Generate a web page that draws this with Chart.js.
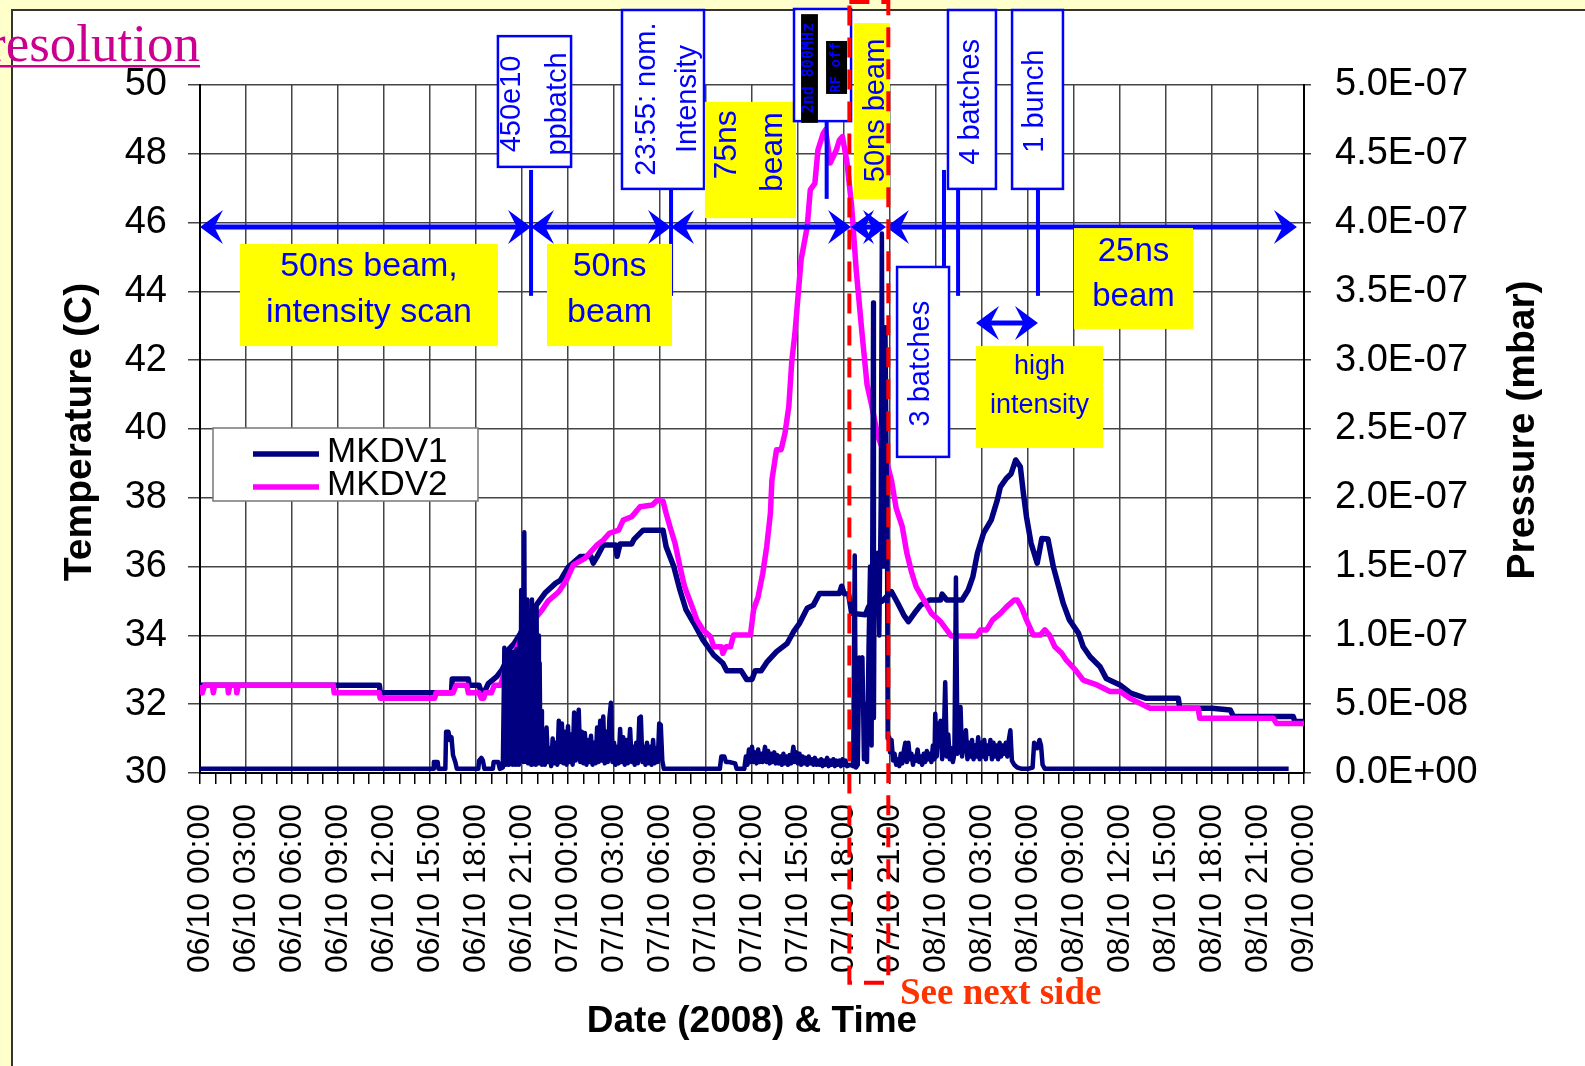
<!DOCTYPE html>
<html>
<head>
<meta charset="utf-8">
<title>MKDV temperature and pressure</title>
<script src="https://cdn.jsdelivr.net/npm/chart.js@4.4.1/dist/chart.umd.min.js"></script>
<style>
  html, body { margin: 0; padding: 0; background: #ffffcc; overflow: hidden; }
  canvas { display: block; }
</style>
</head>
<body>
<canvas id="kickerChart" width="1585" height="1066"></canvas>
<script>
// x axis: hours since 06/10/2008 00:00
const timeLabels = [
  '06/10 00:00', '06/10 03:00', '06/10 06:00', '06/10 09:00', '06/10 12:00', '06/10 15:00', '06/10 18:00', '06/10 21:00',
  '07/10 00:00', '07/10 03:00', '07/10 06:00', '07/10 09:00', '07/10 12:00', '07/10 15:00', '07/10 18:00', '07/10 21:00',
  '08/10 00:00', '08/10 03:00', '08/10 06:00', '08/10 09:00', '08/10 12:00', '08/10 15:00', '08/10 18:00', '08/10 21:00',
  '09/10 00:00'
];

// MKDV1 temperature, [hour, deg C]
const mkdv1Temp = [
  [0, 32.55], [11.7, 32.55], [11.75, 32.33], [16.4, 32.33], [16.45, 32.73], [17.5, 32.73], [17.55, 32.55], [18.2, 32.55],
  [18.3, 32.4], [18.6, 32.4], [18.8, 32.6], [19.35, 32.8], [19.7, 33.0], [20.0, 33.28], [20.1, 33.58], [20.5, 33.77],
  [20.9, 34.06], [21.4, 34.5], [21.85, 34.83], [22.5, 35.23], [23.2, 35.52], [23.5, 35.6], [24.0, 35.98], [24.8, 36.29],
  [25.5, 36.29], [25.65, 36.1], [25.9, 36.29], [26.3, 36.63], [27.1, 36.63], [27.2, 36.3], [27.4, 36.66], [28.15, 36.66],
  [28.3, 36.79], [28.9, 37.06], [30.2, 37.06], [30.4, 36.58], [30.9, 36.0], [31.3, 35.32], [31.7, 34.74], [32.2, 34.36],
  [32.8, 33.87], [33.5, 33.43], [34.1, 33.19], [34.35, 32.97], [35.3, 32.97], [35.65, 32.72], [36.0, 32.72], [36.2, 32.97],
  [36.6, 32.97], [37.0, 33.24], [37.6, 33.53], [38.3, 33.77], [38.7, 34.1], [39.1, 34.35], [39.6, 34.79], [40.0, 34.88],
  [40.4, 35.22], [41.7, 35.22], [41.85, 35.43], [42.0, 35.22], [42.3, 35.2], [42.5, 34.64], [43.4, 34.6], [43.6, 34.83],
  [44.0, 34.9], [44.5, 35.0], [45.1, 35.27], [45.5, 34.94], [45.9, 34.59], [46.2, 34.4], [46.6, 34.65], [47.0, 34.88],
  [47.6, 35.03], [48.3, 35.03], [48.4, 35.2], [48.7, 35.03], [49.7, 35.03], [50.1, 35.32], [50.4, 35.7], [50.7, 36.39],
  [51.1, 36.97], [51.6, 37.35], [52.0, 37.94], [52.2, 38.32], [52.6, 38.57], [52.9, 38.7], [53.2, 39.1], [53.5, 38.9],
  [53.7, 38.13], [53.9, 37.45], [54.2, 36.68], [54.6, 36.1], [54.9, 36.82], [55.3, 36.8], [55.65, 36.0], [56.0, 35.42],
  [56.3, 34.93], [56.7, 34.45], [57.3, 34.06], [57.6, 33.67], [58.05, 33.38], [58.7, 33.09], [59.1, 32.75], [60.0, 32.56],
  [60.7, 32.32], [61.7, 32.17], [63.8, 32.17], [63.9, 31.88], [66.0, 31.88], [67.2, 31.83], [67.4, 31.64], [71.3, 31.64],
  [71.4, 31.5], [72, 31.5]
];

// MKDV2 temperature, [hour, deg C]
const mkdv2Temp = [
  [0, 32.55], [0.15, 32.33], [0.3, 32.55], [0.8, 32.55], [0.87, 32.33], [0.95, 32.55], [1.8, 32.55], [1.85, 32.33],
  [1.95, 32.55], [2.35, 32.55], [2.4, 32.33], [2.5, 32.55], [8.7, 32.55], [8.75, 32.33], [11.7, 32.33], [11.75, 32.17],
  [15.3, 32.17], [15.4, 32.33], [16.5, 32.33], [16.7, 32.55], [17.4, 32.55], [17.5, 32.33], [18.2, 32.33], [18.35, 32.17],
  [18.5, 32.17], [18.6, 32.33], [19.0, 32.33], [19.2, 32.55], [19.6, 32.55], [19.9, 33.0], [20.5, 33.49], [20.9, 33.87],
  [21.5, 34.3], [22.3, 34.73], [22.7, 35.0], [23.4, 35.27], [23.9, 35.61], [24.35, 36.05], [25.1, 36.24], [25.9, 36.63],
  [26.3, 36.77], [26.7, 36.97], [27.3, 37.06], [27.6, 37.35], [28.15, 37.45], [28.7, 37.74], [29.5, 37.79], [29.8, 37.92],
  [30.2, 37.9], [30.4, 37.55], [30.65, 37.16], [30.98, 36.68], [31.3, 36.0], [31.6, 35.42], [32.1, 34.83], [32.4, 34.45],
  [32.8, 34.16], [33.3, 33.96], [33.5, 33.67], [34.0, 33.67], [34.1, 33.48], [34.3, 33.67], [34.6, 33.67], [34.8, 34.01],
  [35.9, 34.01], [36.1, 34.74], [36.4, 35.13], [36.7, 35.8], [36.96, 36.58], [37.2, 37.55], [37.3, 38.52], [37.6, 39.4],
  [37.9, 39.4], [38.15, 39.87], [38.4, 40.65], [38.6, 42.0], [38.8, 42.78], [39.0, 43.85], [39.2, 44.91], [39.6, 45.88],
  [39.8, 46.95], [40.1, 47.14], [40.3, 48.11], [40.65, 48.6], [40.8, 48.7], [41.1, 47.73], [41.5, 48.11], [41.7, 48.4],
  [41.9, 48.5], [42.2, 47.73], [42.5, 46.47], [42.8, 44.6], [43.15, 42.9], [43.5, 41.3], [43.8, 40.7], [44.2, 39.8],
  [44.7, 39.2], [45.1, 38.5], [45.4, 37.7], [45.8, 37.16], [46.1, 36.39], [46.4, 35.85], [46.7, 35.42], [47.2, 35.03],
  [47.7, 34.64], [48.3, 34.4], [48.7, 34.16], [49.0, 33.98], [50.65, 33.98], [50.9, 34.16], [51.3, 34.16], [51.7, 34.45],
  [52.2, 34.64], [52.6, 34.83], [53.1, 35.03], [53.3, 35.03], [53.6, 34.79], [53.9, 34.45], [54.35, 34.01], [54.8, 34.01],
  [55.1, 34.16], [55.4, 34.01], [55.75, 33.67], [56.2, 33.48], [56.5, 33.28], [57.1, 32.99], [57.6, 32.7], [58.5, 32.56],
  [59.35, 32.37], [60.0, 32.37], [60.65, 32.17], [61.96, 31.88], [65.1, 31.88], [65.2, 31.59], [70.0, 31.59], [70.2, 31.44],
  [72, 31.44]
];

// vacuum pressure, [hour, value in 1e-9 mbar]
const pressure = [
  [0, 3], [15.2, 3], [15.25, 8], [15.5, 8], [15.55, 3], [16.0, 3], [16.05, 30], [16.2, 30], [16.3, 24], [16.4, 26],
  [16.5, 13], [16.65, 8], [16.75, 3], [18.15, 3], [18.2, 9], [18.35, 11], [18.45, 9], [18.55, 3], [19.1, 3], [19.15, 8],
  [19.45, 8], [19.55, 3], [19.75, 4],
  [19.85, 91], [19.9, 6], [19.95, 70], [20.0, 8], [20.05, 85], [20.1, 6], [20.15, 64], [20.2, 9], [20.25, 75], [20.3, 7],
  [20.35, 88], [20.4, 6], [20.45, 62], [20.5, 8], [20.55, 78], [20.6, 6], [20.65, 90], [20.7, 7], [20.75, 70], [20.8, 6],
  [20.85, 100], [20.9, 9], [20.95, 133], [21.0, 10], [21.05, 120], [21.1, 8], [21.15, 175], [21.2, 12], [21.25, 111],
  [21.3, 8], [21.35, 126], [21.4, 7], [21.45, 105], [21.5, 9], [21.55, 118], [21.6, 6], [21.65, 126], [21.7, 8],
  [21.75, 110], [21.8, 7], [21.85, 116], [21.9, 6], [21.95, 121], [22.0, 9], [22.05, 100], [22.1, 7], [22.15, 80],
  [22.2, 8], [22.25, 45],
  [22.3, 6], [22.4, 20], [22.5, 6], [22.6, 33], [22.7, 8], [22.8, 18], [22.9, 5], [23.0, 25], [23.1, 7], [23.2, 22],
  [23.3, 6], [23.4, 38], [23.5, 8], [23.6, 36], [23.7, 7], [23.8, 30], [23.9, 6], [24.0, 34], [24.1, 8], [24.2, 28],
  [24.3, 6], [24.4, 44], [24.5, 9], [24.6, 30], [24.7, 46], [24.8, 8], [24.9, 30], [25.0, 7], [25.1, 29], [25.2, 6],
  [25.3, 24], [25.4, 8], [25.5, 27], [25.6, 6], [25.7, 22], [25.8, 7], [25.9, 33], [26.0, 8], [26.1, 38], [26.2, 9],
  [26.3, 41], [26.4, 7], [26.5, 30], [26.6, 8], [26.7, 40], [26.8, 51], [26.9, 8], [27.0, 22], [27.1, 6], [27.2, 19],
  [27.3, 7], [27.4, 32], [27.5, 8], [27.6, 26], [27.7, 6], [27.8, 24], [27.9, 7], [28.05, 32], [28.15, 8], [28.25, 19],
  [28.35, 6], [28.45, 22], [28.55, 7], [28.65, 40], [28.75, 41], [28.85, 8], [28.95, 19], [29.05, 6], [29.15, 22],
  [29.25, 7], [29.35, 19], [29.45, 6], [29.55, 24], [29.65, 7], [29.75, 18], [29.85, 8], [29.95, 36], [30.05, 35],
  [30.15, 9], [30.25, 3],
  [33.9, 3], [34.0, 12], [34.2, 12], [34.3, 8], [34.5, 8], [34.9, 7], [35.0, 3], [35.5, 3],
  [35.6, 12], [35.7, 6], [35.8, 17], [35.9, 8], [36.0, 19], [36.1, 8], [36.2, 15], [36.3, 7], [36.4, 17], [36.5, 8],
  [36.6, 14], [36.7, 8], [36.85, 19], [36.95, 8], [37.05, 16], [37.15, 7], [37.25, 14], [37.35, 8], [37.45, 15],
  [37.55, 7], [37.65, 13], [37.75, 7], [37.85, 12], [37.95, 6], [38.05, 14], [38.15, 7], [38.25, 12], [38.35, 6],
  [38.45, 13], [38.55, 7], [38.7, 19], [38.8, 8], [38.9, 15], [39.0, 7], [39.1, 14], [39.2, 6], [39.3, 12], [39.4, 7],
  [39.5, 11], [39.6, 6], [39.7, 12], [39.8, 7], [39.9, 10], [40.0, 6], [40.1, 11], [40.2, 6], [40.3, 9], [40.4, 6],
  [40.5, 10], [40.6, 5], [40.7, 9], [40.8, 6], [40.9, 11], [41.0, 5], [41.1, 9], [41.2, 6], [41.3, 10], [41.4, 5],
  [41.5, 9], [41.6, 6], [41.7, 9], [41.8, 5], [41.9, 10], [42.0, 6], [42.1, 9], [42.2, 5],
  [42.4, 6], [42.6, 5], [42.7, 158], [42.78, 4], [42.9, 6], [43.0, 84], [43.1, 80], [43.2, 84], [43.3, 10], [43.4, 50],
  [43.5, 8], [43.6, 90], [43.7, 150], [43.8, 20], [43.9, 342], [43.95, 40], [44.0, 160], [44.1, 120], [44.2, 160],
  [44.3, 100], [44.4, 200], [44.47, 392], [44.55, 150], [44.6, 280], [44.7, 324], [44.8, 200], [44.85, 25], [44.95, 26],
  [45.0, 15], [45.1, 24],
  [45.2, 9], [45.3, 14], [45.4, 6], [45.5, 10], [45.6, 5], [45.7, 14], [45.8, 7], [45.9, 16], [46.0, 22], [46.1, 8],
  [46.2, 22], [46.3, 10], [46.4, 14], [46.5, 6], [46.6, 12], [46.7, 9], [46.8, 17], [46.9, 8], [47.0, 12], [47.1, 6],
  [47.2, 14], [47.3, 8], [47.4, 16], [47.5, 10], [47.6, 14], [47.7, 8], [47.8, 20], [47.9, 10], [47.95, 43], [48.05, 12],
  [48.15, 36], [48.25, 26], [48.3, 38], [48.4, 10], [48.5, 20], [48.6, 66], [48.7, 12], [48.8, 28], [48.9, 10],
  [49.0, 18], [49.1, 8], [49.2, 14], [49.3, 142], [49.4, 14], [49.5, 20], [49.6, 48], [49.7, 12], [49.8, 20],
  [49.95, 31], [50.05, 10], [50.15, 22], [50.25, 12], [50.35, 24], [50.45, 10], [50.55, 20], [50.65, 12], [50.75, 26],
  [50.85, 10], [50.95, 22], [51.05, 12], [51.15, 24], [51.25, 10], [51.35, 20], [51.45, 14], [51.55, 24], [51.65, 10],
  [51.75, 22], [51.85, 12], [51.95, 20], [52.05, 10], [52.15, 22], [52.25, 12], [52.35, 20], [52.45, 14], [52.55, 22],
  [52.65, 12], [52.75, 24], [52.85, 31], [52.95, 9], [53.1, 6], [53.3, 4], [53.6, 3], [54.0, 3], [54.3, 4], [54.4, 22],
  [54.6, 18], [54.75, 24], [54.85, 20], [54.95, 6], [55.1, 3], [71.0, 3]
];

// beam phases along the top of the plot (hour of each change)
const phaseEdges = [0, 21.59, 30.72, 42.46, 44.74, 71.54];

const BLUE = '#0000ff';
const YELLOW = '#ffff00';
const SANS = '"Liberation Sans", Arial, sans-serif';
const SERIF = '"Liberation Serif", "Times New Roman", serif';

Chart.defaults.font.family = SANS;
Chart.defaults.color = '#000';

const toXY = rows => rows.map(r => ({ x: r[0], y: r[1] }));

function sciLabel(v) {
  if (v === 0) return '0.0E+00';
  const p = v * 1e-9;
  const e = Math.floor(Math.log10(p) + 1e-9);
  const m = p / Math.pow(10, e);
  return m.toFixed(1) + 'E' + (e < 0 ? '-' : '+') + String(Math.abs(e)).padStart(2, '0');
}

function vText(c, str, x, y, font, color) {
  c.save();
  c.translate(x, y);
  c.rotate(-Math.PI / 2);
  c.font = font;
  c.fillStyle = color;
  c.textAlign = 'center';
  c.textBaseline = 'middle';
  c.fillText(str, 0, 0);
  c.restore();
}

function arrowHead(c, x, y, dir, len, half) {
  c.beginPath();
  c.moveTo(x, y);
  c.lineTo(x - dir * len, y - half);
  c.lineTo(x - dir * len * 0.62, y);
  c.lineTo(x - dir * len, y + half);
  c.closePath();
  c.fill();
}

function doubleArrow(c, x0, x1, y) {
  c.strokeStyle = BLUE;
  c.fillStyle = BLUE;
  c.lineWidth = 5;
  c.beginPath();
  c.moveTo(x0 + 8, y);
  c.lineTo(x1 - 8, y);
  c.stroke();
  arrowHead(c, x0, y, -1, 23, 17);
  arrowHead(c, x1, y, 1, 23, 17);
}

const decorations = {
  id: 'decorations',
  beforeDraw(chart) {
    const c = chart.ctx;
    c.save();
    c.fillStyle = '#ffffcc';
    c.fillRect(0, 0, chart.width, chart.height);
    c.fillStyle = '#ffffff';
    c.fillRect(12, 10, chart.width, chart.height);
    c.strokeStyle = '#333';
    c.lineWidth = 2;
    c.strokeRect(12, 10, chart.width + 20, chart.height + 20);
    c.restore();
  },
  afterDraw(chart) {
    const c = chart.ctx;
    const a = chart.chartArea;
    const X = h => chart.scales.x.getPixelForValue(h);
    const Y = t => chart.scales.y.getPixelForValue(t);
    c.save();

    // slide heading fragment
    c.font = '53px ' + SERIF;
    c.fillStyle = '#cc0090';
    c.textAlign = 'right';
    c.textBaseline = 'alphabetic';
    c.fillText('resolution', 200, 61);
    c.fillRect(0, 65, 200, 2.5);

    // axis titles
    c.font = 'bold 39px ' + SANS;
    c.fillStyle = '#000';
    c.textAlign = 'center';
    c.save(); c.translate(91, 432); c.rotate(-Math.PI / 2); c.fillText('Temperature (C)', 0, 0); c.restore();
    c.save(); c.translate(1534, 430); c.rotate(-Math.PI / 2); c.fillText('Pressure (mbar)', 0, 0); c.restore();
    c.font = 'bold 37px ' + SANS;
    c.fillText('Date (2008) & Time', (a.left + a.right) / 2, 1032);

    // legend
    c.fillStyle = '#fff';
    c.fillRect(213, 428, 265, 73);
    c.strokeStyle = '#777';
    c.lineWidth = 1.5;
    c.strokeRect(213, 428, 265, 73);
    c.lineWidth = 5.5;
    c.strokeStyle = '#000080';
    c.beginPath(); c.moveTo(253, 454); c.lineTo(319, 454); c.stroke();
    c.strokeStyle = '#ff00ff';
    c.beginPath(); c.moveTo(253, 487); c.lineTo(319, 487); c.stroke();
    c.font = '35px ' + SANS;
    c.fillStyle = '#000';
    c.textAlign = 'left';
    c.fillText('MKDV1', 327, 462);
    c.fillText('MKDV2', 327, 495);

    // phase arrows and event markers
    const yArrow = Y(45.87);
    for (let i = 0; i < phaseEdges.length - 1; i++) {
      doubleArrow(c, X(phaseEdges[i]), X(phaseEdges[i + 1]), yArrow);
    }
    doubleArrow(c, X(50.61), X(54.65), Y(43.08));
    c.strokeStyle = BLUE;
    c.lineWidth = 4;
    [[21.59, 47.53, 43.87], [30.72, 46.98, 43.87], [40.87, 48.95, 46.69],
     [48.52, 47.53, 44.71], [49.44, 46.98, 43.87], [54.65, 46.98, 43.87]].forEach(([h, t0, t1]) => {
      c.beginPath(); c.moveTo(X(h), Y(t0)); c.lineTo(X(h), Y(t1)); c.stroke();
    });

    // horizontal-text labels
    const flatNotes = [
      { box: [2.61, 19.43, 45.38, 42.41], size: 34, lines: [['50ns beam,', 11.02, 44.71], ['intensity scan', 11.02, 43.37]] },
      { box: [22.63, 30.78, 45.38, 42.41], size: 34, lines: [['50ns', 26.71, 44.71], ['beam', 26.71, 43.37]] },
      { box: [50.61, 58.89, 42.41, 39.45], size: 27, lines: [['high', 54.75, 41.83], ['intensity', 54.75, 40.67]] },
      { box: [57.0, 64.76, 45.84, 42.91], size: 33, lines: [['25ns', 60.88, 45.15], ['beam', 60.88, 43.84]] }
    ];
    flatNotes.forEach(n => {
      const [h0, h1, t0, t1] = n.box;
      c.fillStyle = YELLOW;
      c.fillRect(X(h0), Y(t0), X(h1) - X(h0), Y(t1) - Y(t0));
      c.fillStyle = BLUE;
      c.font = n.size + 'px ' + SANS;
      c.textAlign = 'center';
      c.textBaseline = 'middle';
      n.lines.forEach(([s, h, t]) => c.fillText(s, X(h), Y(t)));
    });

    // vertical-text labels
    const tallNotes = [
      { box: [19.43, 24.2, 51.42, 47.62], fill: '#fff', size: 29, lines: [['450e10', 20.35, 49.45], ['ppbatch', 23.35, 49.45]] },
      { box: [27.52, 32.87, 52.18, 46.98], fill: '#fff', size: 29, lines: [['23:55: nom.', 29.12, 49.59], ['Intensity', 31.83, 49.59]] },
      { box: [32.93, 38.87, 49.51, 46.13], fill: YELLOW, size: 32, lines: [['75ns', 34.37, 48.26], ['beam', 37.37, 48.05]] },
      { box: [42.65, 45.0, 51.8, 46.69], fill: YELLOW, size: 29, lines: [['50ns beam', 44.09, 49.26]] },
      { box: [48.78, 51.91, 52.18, 46.98], fill: '#fff', size: 29, lines: [['4 batches', 50.28, 49.51]] },
      { box: [52.96, 56.28, 52.18, 46.98], fill: '#fff', size: 29, lines: [['1 bunch', 54.46, 49.53]] },
      { box: [45.46, 48.85, 44.71, 39.19], fill: '#fff', size: 29, lines: [['3 batches', 47.02, 41.9]] }
    ];
    tallNotes.forEach(n => {
      const [h0, h1, t0, t1] = n.box;
      const x = X(h0), y = Y(t0), w = X(h1) - X(h0), hgt = Y(t1) - Y(t0);
      c.fillStyle = n.fill;
      c.fillRect(x, y, w, hgt);
      if (n.fill === '#fff') {
        c.strokeStyle = BLUE;
        c.lineWidth = 2.5;
        c.strokeRect(x, y, w, hgt);
      }
      n.lines.forEach(([s, h, t]) => vText(c, s, X(h), Y(t), n.size + 'px ' + SANS, BLUE));
    });

    // "2nd 800MHz / RF off" marker
    {
      const x = X(38.74), y = Y(52.21);
      c.fillStyle = '#fff';
      c.fillRect(x, y, X(42.46) - x, Y(48.95) - y);
      c.strokeStyle = BLUE;
      c.lineWidth = 2.5;
      c.strokeRect(x, y, X(42.46) - x, Y(48.95) - y);
      c.fillStyle = '#000';
      c.fillRect(X(39.2), Y(52.06), X(40.3) - X(39.2), Y(48.9) - Y(52.06));
      c.fillRect(X(40.83), Y(51.28), X(42.2) - X(40.83), Y(49.74) - Y(51.28));
      vText(c, '2nd 800MHz', X(39.75), Y(50.49), 'bold 15px "DejaVu Sans Mono", monospace', BLUE);
      vText(c, 'RF off', X(41.51), Y(50.51), 'bold 14px "DejaVu Sans Mono", monospace', BLUE);
    }

    // zoom window carried to the next slide
    c.strokeStyle = '#ff0000';
    c.lineWidth = 4;
    c.setLineDash([20, 12]);
    const rx0 = X(42.35), rx1 = X(44.89), ry0 = Y(52.41), ry1 = Y(23.9);
    c.strokeRect(rx0, ry0, rx1 - rx0, ry1 - ry0);
    c.setLineDash([]);
    c.font = 'bold 37px ' + SERIF;
    c.fillStyle = '#ff3300';
    c.textAlign = 'left';
    c.textBaseline = 'alphabetic';
    c.fillText('See next side', X(45.65), Y(23.28));

    c.restore();
  }
};

new Chart(document.getElementById('kickerChart'), {
  type: 'line',
  data: {
    datasets: [
      {
        label: 'MKDV1 pressure',
        data: toXY(pressure),
        yAxisID: 'y2',
        borderColor: '#000080',
        borderWidth: 4.5,
        borderJoinStyle: 'round',
        pointRadius: 0,
        order: 0
      },
      {
        label: 'MKDV2',
        data: toXY(mkdv2Temp),
        yAxisID: 'y',
        borderColor: '#ff00ff',
        borderWidth: 5.5,
        borderJoinStyle: 'round',
        pointRadius: 0,
        order: 1
      },
      {
        label: 'MKDV1',
        data: toXY(mkdv1Temp),
        yAxisID: 'y',
        borderColor: '#000080',
        borderWidth: 5.5,
        borderJoinStyle: 'round',
        pointRadius: 0,
        order: 2
      }
    ]
  },
  options: {
    responsive: false,
    animation: false,
    events: [],
    layout: { padding: { top: 85, left: 0, right: 0, bottom: 0 } },
    plugins: { legend: { display: false }, tooltip: { enabled: false } },
    scales: {
      x: {
        type: 'linear',
        min: 0,
        max: 72,
        afterFit: s => { s.height = 1066 - 773; },
        border: { color: '#000', width: 2 },
        grid: {
          color: ctx => (ctx.tick && ctx.tick.value % 3 === 0) ? '#444' : 'rgba(0,0,0,0)',
          lineWidth: 1.5,
          tickColor: '#000',
          tickLength: 11
        },
        ticks: {
          stepSize: 1,
          autoSkip: false,
          minRotation: 90,
          maxRotation: 90,
          padding: 20,
          font: { size: 32 },
          callback: v => (v % 3 === 0 ? timeLabels[v / 3] : '')
        }
      },
      y: {
        position: 'left',
        min: 30,
        max: 50,
        afterFit: s => { s.width = 200; },
        border: { color: '#000', width: 2 },
        grid: { color: '#444', lineWidth: 1.5, tickColor: '#444', tickLength: 12 },
        ticks: { stepSize: 2, padding: 21, font: { size: 38 }, callback: v => String(v) }
      },
      y2: {
        position: 'right',
        min: 0,
        max: 500,
        afterFit: s => { s.width = 1585 - 1304; },
        border: { color: '#000', width: 2 },
        grid: { drawOnChartArea: false, color: '#444', lineWidth: 1.5, tickLength: 7 },
        ticks: { stepSize: 50, padding: 24, font: { size: 38 }, callback: v => sciLabel(v) }
      }
    }
  },
  plugins: [decorations]
});
</script>
</body>
</html>
